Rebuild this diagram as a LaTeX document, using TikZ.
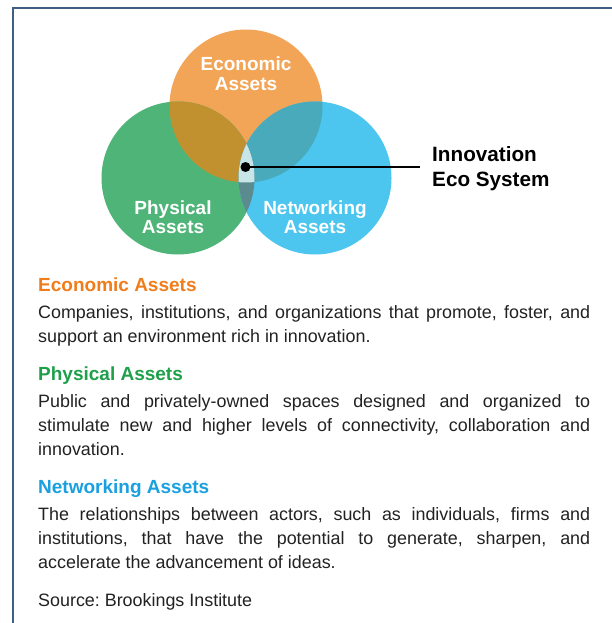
\documentclass[tikz,border=0pt]{standalone}
\usepackage{fontspec}
\setmainfont{Liberation Sans}
\definecolor{econ}{HTML}{F2A556}
\definecolor{phys}{HTML}{4EB478}
\definecolor{netw}{HTML}{4CC5EF}
\definecolor{ep}{HTML}{C2912F}
\definecolor{en}{HTML}{48AABB}
\definecolor{pn}{HTML}{5B8B8E}
\definecolor{epn}{HTML}{C8E6E8}
\definecolor{econhead}{HTML}{F07D1A}
\definecolor{physhead}{HTML}{1EA04B}
\definecolor{netwhead}{HTML}{19A0E0}
\definecolor{bodytxt}{HTML}{222222}
\definecolor{framecol}{HTML}{3E5F7F}
\newcommand{\jline}[1]{\makebox[552pt][s]{#1}}
\tikzset{
  body/.style={anchor=base west, inner sep=0pt, text=bodytxt, font=\fontsize{17.9}{21}\selectfont},
  head/.style={anchor=base west, inner sep=0pt, font=\fontsize{19}{22}\selectfont\bfseries},
  clabel/.style={anchor=base, inner sep=0pt, text=white, font=\fontsize{19}{22}\selectfont\bfseries},
  inno/.style={anchor=base west, inner sep=0pt, text=black, font=\fontsize{20.7}{24}\selectfont\bfseries},
  framelines/.style={draw=framecol, line width=1.5pt},
}
\begin{document}
\frenchspacing
\begin{tikzpicture}[x=1pt,y=-1pt]
\useasboundingbox (0,0) rectangle (612,623);
\fill[white] (0,0) rectangle (612,623);
\draw[framelines] (13,624) -- (13,8) -- (613,8);

\def\R{76.5}
\coordinate (E) at (246,106);
\coordinate (P) at (178,178);
\coordinate (N) at (315,178);
% base circles
\fill[econ] (E) circle (\R);
\fill[phys] (P) circle (\R);
\fill[netw] (N) circle (\R);
% pairwise overlaps
\begin{scope}
  \clip (E) circle (\R);
  \fill[ep] (P) circle (\R);
  \fill[en] (N) circle (\R);
\end{scope}
\begin{scope}
  \clip (P) circle (\R);
  \fill[pn] (N) circle (\R);
\end{scope}
\begin{scope}
  \clip (E) circle (\R);
  \clip (P) circle (\R);
  \fill[epn] (N) circle (\R);
\end{scope}

% circle labels
\node[clabel] (econ1) at (246,70.7) {Economic};
\node[clabel] (econ2) at (246,90.7) {Assets};
\node[clabel] (phys1) at (173,214) {Physical};
\node[clabel] (phys2) at (173,233.5) {Assets};
\node[clabel] (netw1) at (315,214) {Networking};
\node[clabel] (netw2) at (315,233.5) {Assets};

% innovation pointer
\node[circle, fill=black, inner sep=0pt, minimum size=10pt] (dot) at (245.5,167) {};
\coordinate (lineend) at (420,167);
\draw[line width=2pt] (dot.center) -- (lineend);
\node[inno] (inno1) at (432,161.7) {Innovation};
\node[inno] (inno2) at (432,186.7) {Eco System};

% Economic
\node[head, text=econhead] (h1) at (38,291) {Economic Assets};
\node[body] (b11) at (38,318) {\jline{Companies, institutions, and organizations that promote, foster, and}};
\node[body] (b12) at (38,342) {support an environment rich in innovation.};

% Physical
\node[head, text=physhead] (h2) at (38,380) {Physical Assets};
\node[body] (b21) at (38,407) {\jline{Public and privately-owned spaces designed and organized to}};
\node[body] (b22) at (38,431) {\jline{stimulate new and higher levels of connectivity, collaboration and}};
\node[body] (b23) at (38,455) {innovation.};

% Networking
\node[head, text=netwhead] (h3) at (38,493) {Networking Assets};
\node[body] (b31) at (38,520) {\jline{The relationships between actors, such as individuals, firms and}};
\node[body] (b32) at (38,544) {\jline{institutions, that have the potential to generate, sharpen, and}};
\node[body] (b33) at (38,568) {accelerate the advancement of ideas.};

\node[body] (src) at (38,606) {Source: Brookings Institute};
\end{tikzpicture}
\end{document}
